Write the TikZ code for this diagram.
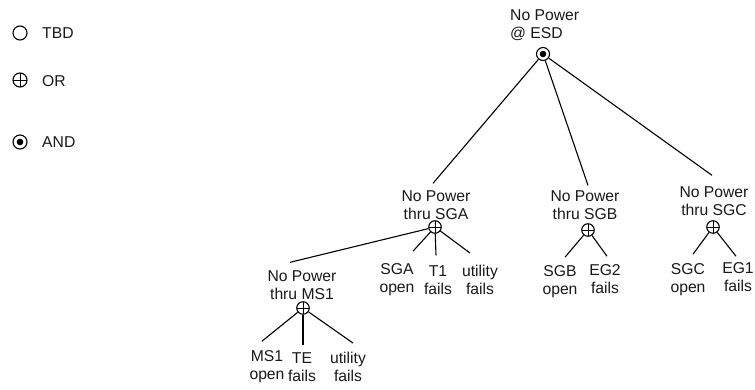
\documentclass[tikz,border=0pt]{standalone}
\usepackage{fontspec}
\setmainfont{Liberation Sans}
\usetikzlibrary{calc}
\tikzset{
  lbl/.style={align=center, inner sep=1pt, font=\fontsize{15.7}{18}\selectfont, text=black!90},
  mid/.style={lbl, inner sep=2pt},
  orgate/.style={circle, draw, minimum size=12.5pt, inner sep=0pt, line width=1.1pt, fill=white,
    path picture={\draw[line width=1pt] (path picture bounding box.north) -- (path picture bounding box.south)
      (path picture bounding box.west) -- (path picture bounding box.east);}},
  andgate/.style={circle, draw, minimum size=13pt, inner sep=0pt, line width=1.1pt,
    path picture={\fill (path picture bounding box.center) circle (3.3pt);}},
  tbdgate/.style={circle, draw, minimum size=14pt, inner sep=0pt, line width=1.1pt},
  edge/.style={line width=1.1pt},
}
\begin{document}
\begin{tikzpicture}[x=1pt, y=-1pt]
\useasboundingbox (0,0) rectangle (755,389);
% legend
\node[tbdgate] (ltbd) at (20,33) {};
\node[lbl, anchor=west] (ttbd) at (41,33) {TBD};
\node[orgate, minimum size=14pt] (lor) at (20,80) {};
\node[lbl, anchor=west] (tor) at (41,81) {OR};
\node[andgate, minimum size=14pt] (land) at (20,142) {};
\node[lbl, anchor=west] (tand) at (41,142) {AND};
% top
\node[lbl, align=left, anchor=west] (top) at (509,25) {No Power\\@ ESD};
\node[andgate] (g0) at (543,54) {};
% level 1
\node[mid] (sga) at (436,205) {No Power\\thru SGA};
\node[orgate] (g1) at (435,227) {};
\node[mid] (sgb) at (585,205) {No Power\\thru SGB};
\node[orgate] (g2) at (588,230) {};
\node[mid] (sgc) at (714,201) {No Power\\thru SGC};
\node[orgate] (g3) at (713,227) {};
% level 2 under SGA
\node[mid] (ms1) at (302,285) {No Power\\thru MS1};
\node[orgate] (g4) at (303,308) {};
\node[lbl] (sgaopen) at (397,280) {SGA\\open};
\node[lbl] (t1) at (438,280) {T1\\fails};
\node[lbl] (utila) at (480,280) {utility\\fails};
% SGB leaves
\node[lbl] (sgbopen) at (560,282) {SGB\\open};
\node[lbl] (eg2) at (605,279) {EG2\\fails};
% SGC leaves
\node[lbl] (sgcopen) at (688,280) {SGC\\open};
\node[lbl] (eg1) at (738,277) {EG1\\fails};
% MS1 leaves
\node[lbl] (ms1open) at (267,367) {MS1\\open};
\node[lbl] (te) at (302,367) {TE\\fails};
\node[lbl] (utilm) at (348,367) {utility\\fails};
% connectors
\draw[edge] (g0) -- ([xshift=-3pt, yshift=5pt]sga.north);
\draw[edge] (g0) -- ([xshift=3pt, yshift=3pt]sgb.north);
\draw[edge] (g0) -- ([xshift=-2pt, yshift=9pt]sgc.north);
\draw[edge] (g1) -- ([xshift=-12pt, yshift=6pt]ms1.north);
\draw[edge] (g1) -- ([xshift=16pt, yshift=11.5pt]sgaopen.north);
\draw[edge] (g1) -- ([xshift=-2pt, yshift=9pt]t1.north);
\draw[edge] (g1) -- ([xshift=-10pt, yshift=11pt]utila.north);
\draw[edge] (g2) -- ([xshift=5pt, yshift=7.5pt]sgbopen.north);
\draw[edge] (g2) -- ([xshift=2pt, yshift=7pt]eg2.north);
\draw[edge] (g3) -- ([xshift=5pt, yshift=8.5pt]sgcopen.north);
\draw[edge] (g3) -- ([xshift=-2pt, yshift=5pt]eg1.north);
\draw[edge] (g4) -- ([xshift=-5pt, yshift=8.5pt]ms1open.north);
\draw[edge] (g4) -- ([xshift=1pt, yshift=6pt]te.north);
\draw[edge] (g4) -- ([xshift=5pt, yshift=8pt]utilm.north);
\end{tikzpicture}
\end{document}
